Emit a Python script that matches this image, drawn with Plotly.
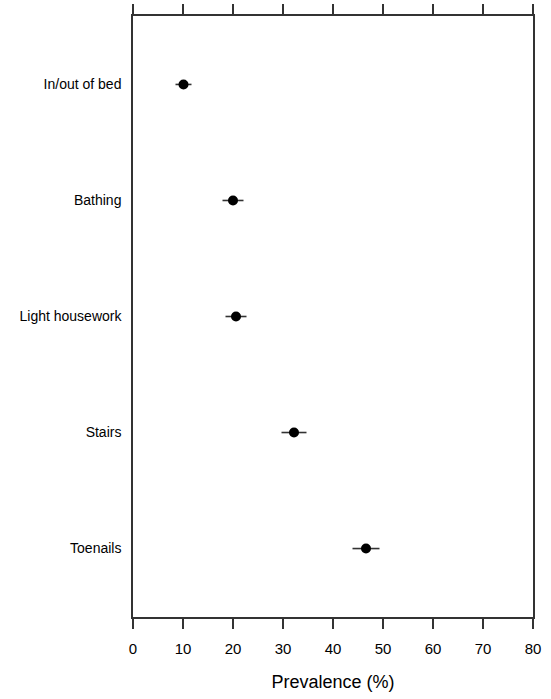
import plotly.graph_objects as go

categories = ["In/out of bed", "Bathing", "Light housework", "Stairs", "Toenails"]
positions = [1, 2, 3, 4, 5]
prevalence = [10.1, 20.0, 20.6, 32.2, 46.6]
ci_halfwidth = [1.6, 2.1, 2.1, 2.5, 2.7]
x_ticks = [0, 10, 20, 30, 40, 50, 60, 70, 80]

line_col = "#333333"

fig = go.Figure()
fig.add_trace(go.Scatter(
    x=prevalence,
    y=positions,
    mode="markers",
    marker=dict(color="black", size=10, symbol="circle"),
    error_x=dict(type="data", array=ci_halfwidth, visible=True,
                 color=line_col, thickness=1.6, width=0),
    showlegend=False,
))

fig.update_layout(
    width=551, height=699,
    margin=dict(l=133, r=18, t=16, b=82),
    plot_bgcolor="white", paper_bgcolor="white",
    font=dict(family="Liberation Sans, Arial, sans-serif", color="black"),
    xaxis=dict(
        range=[0, 80], tickvals=x_ticks, ticktext=[str(v) for v in x_ticks],
        showgrid=False, zeroline=False,
        showline=True, linecolor=line_col, linewidth=1.5,
        ticks="outside", ticklen=10, tickwidth=1.5, tickcolor=line_col,
        mirror="ticks",
        ticklabelstandoff=7,
        tickfont=dict(size=15),
        automargin=False,
        title=dict(text="Prevalence (%)", font=dict(size=18), standoff=20),
    ),
    yaxis=dict(
        range=[5.59, 0.41],
        tickvals=positions, ticktext=categories,
        showgrid=False, zeroline=False,
        showline=True, linecolor=line_col, linewidth=1.5,
        mirror=True, ticks="",
        automargin=False,
        ticklabelstandoff=7,
        tickfont=dict(size=14),
    ),
)

fig.write_html("out.html")
